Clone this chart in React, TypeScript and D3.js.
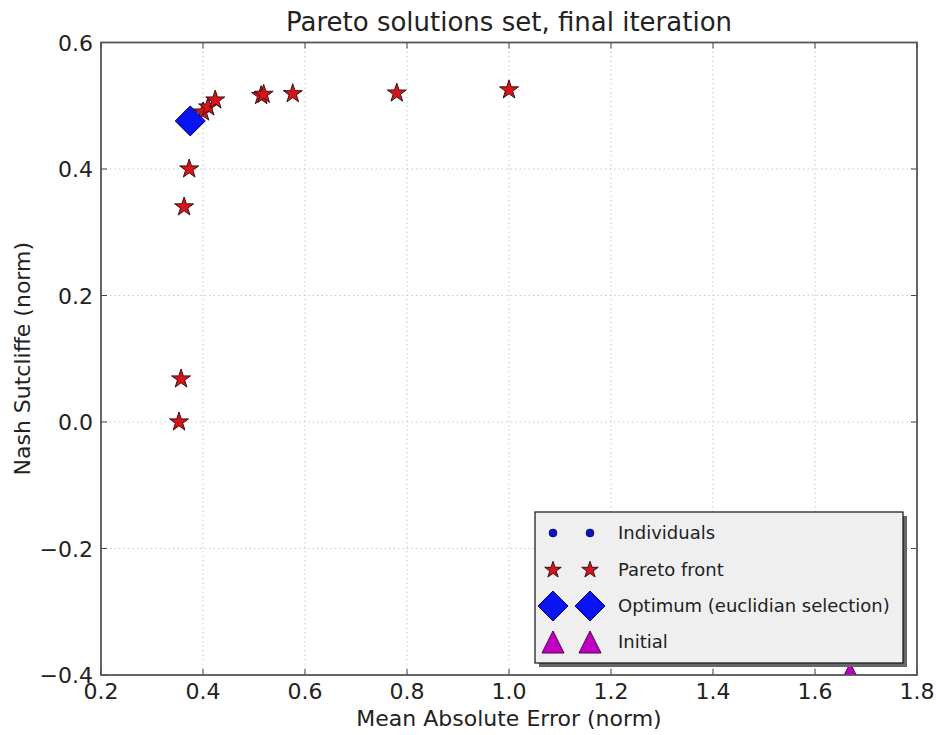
import React from "react";
import * as d3 from "d3";

const paretoX = [0.353, 0.357, 0.363, 0.373, 0.4, 0.41, 0.424, 0.514, 0.519, 0.576, 0.78, 1.0];
const paretoY = [0.0, 0.068, 0.34, 0.4, 0.49, 0.498, 0.509, 0.516, 0.518, 0.519, 0.52, 0.525];
const optimumX = [0.375];
const optimumY = [0.476];
const initialX = [1.669];
const initialY = [-0.4];
const xTicks = [0.2, 0.4, 0.6, 0.8, 1.0, 1.2, 1.4, 1.6, 1.8];
const yTicks = [-0.4, -0.2, 0.0, 0.2, 0.4, 0.6];
const legendLabels = ["Individuals", "Pareto front", "Optimum (euclidian selection)", "Initial"];

const W = 936, H = 735;
const L = 101, R = 917, T = 42.5, B = 675;
const FONT = "DejaVu Sans, sans-serif";

const starPath = d3.symbol(d3.symbolStar, 112)()!;
const diamondPath = "M0,-15L15,0L0,15L-15,0Z";
const triPath = (h: number) => `M0,${-h}L${h},${h}L${-h},${h}Z`;

export default function App() {
  const x = d3.scaleLinear().domain([0.2, 1.8]).range([L, R]);
  const y = d3.scaleLinear().domain([-0.4, 0.6]).range([B, T]);
  const fmt = (v: number) => (v < 0 ? "\u2212" : "") + Math.abs(v).toFixed(1);
  const lx = 535, ly = 512, lw = 368, lh = 151;
  const rows = [533, 570, 606, 642];
  const mx = [553, 590];
  return (
    <svg width={W} height={H} style={{ position: "absolute", left: 0, top: 0, background: "#fff" }} fontFamily={FONT}>
      <defs>
        <clipPath id="plotclip">
          <rect x={L} y={T} width={R - L} height={B - T} />
        </clipPath>
      </defs>
      <rect x={0} y={0} width={W} height={H} fill="#fff" />
      {/* grid */}
      {xTicks.slice(1, -1).map((t) => (
        <line key={"gx" + t} x1={x(t)} x2={x(t)} y1={T} y2={B} stroke="#c8c8c8" strokeWidth={1} strokeDasharray="1.5,3" />
      ))}
      {yTicks.slice(1, -1).map((t) => (
        <line key={"gy" + t} x1={L} x2={R} y1={y(t)} y2={y(t)} stroke="#c8c8c8" strokeWidth={1} strokeDasharray="1.5,3" />
      ))}
      {/* ticks */}
      {xTicks.map((t) => (
        <g key={"tx" + t}>
          <line x1={x(t)} x2={x(t)} y1={B} y2={B - 6} stroke="#444" />
          <line x1={x(t)} x2={x(t)} y1={T} y2={T + 6} stroke="#444" />
          <text x={x(t)} y={B + 24} textAnchor="middle" fontSize={22} fill="#222">{fmt(t)}</text>
        </g>
      ))}
      {yTicks.map((t) => (
        <g key={"ty" + t}>
          <line x1={L} x2={L + 6} y1={y(t)} y2={y(t)} stroke="#444" />
          <line x1={R} x2={R - 6} y1={y(t)} y2={y(t)} stroke="#444" />
          <text x={L - 8} y={y(t) + 8} textAnchor="end" fontSize={22} fill="#222">{fmt(t)}</text>
        </g>
      ))}
      {/* marks */}
      <g clipPath="url(#plotclip)">
        {paretoX.map((v, i) => (
          <path key={"p" + i} d={starPath} transform={`translate(${x(v)},${y(paretoY[i])})`} fill="#d8141a" stroke="#3a1010" strokeWidth={1} />
        ))}
        {optimumX.map((v, i) => (
          <path key={"o" + i} d={diamondPath} transform={`translate(${x(v)},${y(optimumY[i])})`} fill="#0a14f0" stroke="#000060" strokeWidth={1} />
        ))}
        {initialX.map((v, i) => (
          <path key={"in" + i} d={triPath(12)} transform={`translate(${x(v)},${y(initialY[i])})`} fill="#c000c0" stroke="#500050" strokeWidth={1} />
        ))}
      </g>
      {/* frame */}
      <rect x={L} y={T} width={R - L} height={B - T} fill="none" stroke="#555" strokeWidth={1.8} />
      {/* legend */}
      <rect x={lx + 4} y={ly + 4} width={lw} height={lh} fill="#666" />
      <rect x={lx} y={ly} width={lw} height={lh} fill="#efefef" stroke="#111" strokeWidth={1.2} />
      {mx.map((m) => (
        <g key={"lm" + m}>
          <circle cx={m} cy={rows[0]} r={4} fill="#0a14c0" stroke="#000050" strokeWidth={0.6} />
          <path d={d3.symbol(d3.symbolStar, 85)()!} transform={`translate(${m},${rows[1]})`} fill="#d8141a" stroke="#3a1010" strokeWidth={1} />
          <path d={diamondPath} transform={`translate(${m},${rows[2]})`} fill="#0a14f0" stroke="#000060" strokeWidth={1} />
          <path d={triPath(11)} transform={`translate(${m},${rows[3]})`} fill="#c000c0" stroke="#500050" strokeWidth={1} />
        </g>
      ))}
      {legendLabels.map((l, i) => (
        <text key={l} x={618} y={rows[i] + 6} fontSize={18} fill="#222">{l}</text>
      ))}
      {/* titles */}
      <text x={(L + R) / 2} y={31} textAnchor="middle" fontSize={26} fill="#222">Pareto solutions set, final iteration</text>
      <text x={(L + R) / 2} y={726} textAnchor="middle" fontSize={22} fill="#222">Mean Absolute Error (norm)</text>
      <text transform={`translate(30,${(T + B) / 2}) rotate(-90)`} textAnchor="middle" fontSize={22} fill="#222">Nash Sutcliffe (norm)</text>
    </svg>
  );
}
